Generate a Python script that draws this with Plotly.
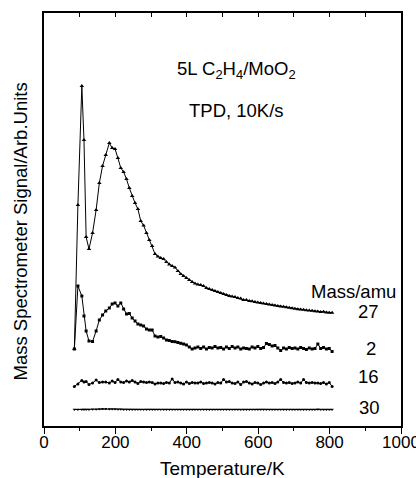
import plotly.graph_objects as go

# Temperature grid of the TPD scan (K)
temperature = [85, 95, 106, 112, 118, 126, 136, 146, 155, 164, 173, 183, 191,
               199, 207, 215, 223, 231, 239, 247, 255, 263, 271, 279, 287, 295,
               303, 311, 319, 327, 335, 343, 351, 359, 367, 375, 383, 391, 399,
               407, 415, 423, 431, 439, 447, 455, 463, 471, 479, 487, 495, 503,
               511, 519, 527, 535, 543, 551, 559, 567, 575, 583, 591, 599, 607,
               615, 623, 631, 639, 647, 655, 663, 671, 679, 687, 695, 703, 711,
               719, 727, 735, 743, 751, 759, 767, 775, 783, 791, 799, 807]

# Mass spectrometer signals (arb. units, curves offset for clarity)
mass27 = [77, 221, 340, 286, 189, 177, 193, 216, 243, 260, 271, 283, 278,
          277, 268, 258, 254, 247, 238, 230, 223, 217, 205, 200.5, 193, 186,
          180, 172, 169.5, 168, 167, 164, 161.5, 160, 158.5, 155, 152, 150, 148,
          146, 144, 142.5, 141.5, 141, 140, 138, 137, 136, 135, 134, 133, 132,
          131, 130, 129.5, 129, 128, 127.5, 126, 126, 125, 124.7, 124, 123.5, 123,
          122.5, 122, 121.5, 121, 120.5, 120, 119.5, 119.3, 118.8, 118.3, 117.7, 117.2, 116.7,
          116.6, 116.2, 115.8, 115.5, 115.2, 114.8, 114.5, 114, 114.2, 113.5, 113.2, 113.3]

mass2 = [77, 140, 130, 110, 95, 85, 84.5, 95, 106, 111, 115, 118, 122,
         123, 120, 123, 117, 112, 112.5, 108, 105, 102, 101, 100, 97, 96,
         96, 90, 89, 89.5, 88, 86, 85.5, 84.5, 84.3, 83.5, 82.7, 82, 81,
         79, 77, 78, 79, 77.5, 79, 77, 78.5, 78, 79.5, 78, 78.5, 77,
         79, 77.5, 79.5, 78, 79, 77, 78, 77.5, 77, 79, 78, 79.5, 77.5,
         78.5, 82.5, 81.5, 80, 80.5, 78, 75.5, 78, 77, 78.5, 77.5, 78, 77,
         78.5, 77.5, 76.5, 78, 77, 77.5, 82, 77.5, 78.5, 77, 77.5, 74.5]

mass16 = [39.5, 42, 45.5, 44, 44.5, 41.5, 43, 46, 43.5, 44, 44, 43, 45,
          43.5, 46.5, 44, 43.5, 45, 44, 45.5, 44, 42.5, 44.5, 44, 43.5, 44,
          43.5, 42, 43, 43, 42.5, 43.5, 43, 47, 43.5, 44, 43, 42, 44,
          42.5, 43.5, 43, 43, 44, 42.5, 43, 43.5, 43, 42, 43.5, 43, 46.5,
          44, 44.5, 43, 42.5, 44, 41.5, 44, 44.5, 43, 42, 43.5, 43, 41.5,
          43, 44, 43, 43.5, 42.5, 44, 46.5, 43.5, 43, 43.5, 42.5, 43, 44,
          43, 46.5, 43.5, 43, 43.5, 43, 43, 42.5, 43.5, 42, 43.5, 39.5]

mass30 = [16.5, 16.6, 16.5, 16.4, 16.6, 16.5, 16.7, 16.8, 17.0, 17.2, 17.2, 17.1, 17.0,
          16.9, 16.8, 16.7, 16.6, 16.6, 16.5, 16.6, 16.5, 16.5, 16.4, 16.5, 16.6, 16.5,
          16.5, 16.4, 16.5, 16.6, 16.5, 16.4, 16.5, 16.5, 16.6, 16.5, 16.4, 16.5, 16.5,
          16.6, 16.5, 16.5, 16.4, 16.5, 16.6, 16.5, 16.5, 16.4, 16.5, 16.5, 16.6, 16.5,
          16.4, 16.5, 16.5, 16.6, 16.5, 16.4, 16.5, 16.5, 16.6, 16.5, 16.5, 16.4, 16.5,
          16.6, 16.5, 16.5, 16.4, 16.5, 16.5, 16.6, 16.5, 16.4, 16.5, 16.5, 16.6, 16.5,
          16.5, 16.4, 16.5, 16.6, 16.5, 16.5, 16.7, 16.5, 16.4, 16.5, 16.5, 16.4]

series = [("27", mass27, "triangle-up", 4),
          ("2", mass2, "square", 3),
          ("16", mass16, "circle", 3),
          ("30", mass30, "triangle-down", 3)]

# Label positions (temperature, signal) of the mass tags at the right
label_pos = {"27": (908, 115), "2": (916, 78), "16": (910, 49.5), "30": (913, 19)}

x_ticks = [0, 200, 400, 600, 800, 1000]
x_minor = [100, 300, 500, 700, 900]
top_ticks = [100, 200, 300, 400, 500, 600, 700, 800, 900]

FONT = "Liberation Sans, Arial, Helvetica, sans-serif"

fig = go.Figure()
for name, values, symbol, size in series:
    fig.add_trace(go.Scatter(
        x=temperature, y=values, mode="lines+markers", name=name,
        line=dict(color="black", width=1),
        marker=dict(symbol=symbol, size=size, color="black"),
        showlegend=False, cliponaxis=False))

# invisible trace so the top axis exists
fig.add_trace(go.Scatter(x=[0, 1000], y=[0, 0], xaxis="x2", mode="markers",
                         marker=dict(opacity=0), showlegend=False, hoverinfo="skip"))

annotations = [
    dict(x=538, y=356, text="5L C<sub>2</sub>H<sub>4</sub>/MoO<sub>2</sub>", font_size=18.5),
    dict(x=538, y=316, text="TPD, 10K/s", font_size=18.5),
    dict(x=868, y=135, text="Mass/amu", font_size=18.5),
]
for name, _, _, _ in series:
    tx, ty = label_pos[name]
    annotations.append(dict(x=tx, y=ty, text=name, font_size=18.5))
for a in annotations:
    a.update(xref="x", yref="y")

# axis titles placed in paper coordinates
annotations += [
    dict(x=0.501, y=-0.103, xref="paper", yref="paper",
         text="Temperature/K", font_size=19),
    dict(x=-0.066, y=0.472, xref="paper", yref="paper",
         text="Mass Spectrometer Signal/Arb.Units", font_size=18.5, textangle=-90),
]
for a in annotations:
    a.update(showarrow=False, xanchor="center", yanchor="middle")
    a["font"] = dict(family=FONT, color="black", size=a.pop("font_size"))

fig.update_layout(
    width=416, height=478,
    margin=dict(l=44, r=15, t=13, b=52, autoexpand=False),
    paper_bgcolor="white", plot_bgcolor="white",
    font=dict(family=FONT, color="black", size=17),
    annotations=annotations,
    xaxis=dict(range=[0, 1000], showgrid=False, zeroline=False, automargin=False,
               showline=True, linecolor="black", linewidth=1.6, mirror=True,
               tickmode="array", tickvals=x_ticks, ticktext=[str(v) for v in x_ticks],
               ticks="outside", ticklen=6, tickwidth=1.2, tickcolor="black",
               tickfont=dict(size=17), ticklabeloverflow="allow",
               ticklabelstandoff=-6,
               minor=dict(tickmode="array", tickvals=x_minor, ticks="outside",
                          ticklen=3, tickwidth=1.2, tickcolor="black", showgrid=False)),
    xaxis2=dict(range=[0, 1000], overlaying="x", side="top", showgrid=False,
                zeroline=False, showline=False, automargin=False,
                tickmode="array", tickvals=top_ticks,
                ticks="inside", ticklen=4, tickwidth=1.2, tickcolor="black",
                showticklabels=False),
    yaxis=dict(range=[0, 413], showgrid=False, zeroline=False, showline=True,
               automargin=False, linecolor="black", linewidth=1.6, mirror=True,
               ticks="", showticklabels=False),
)

fig.write_html("out.html")
